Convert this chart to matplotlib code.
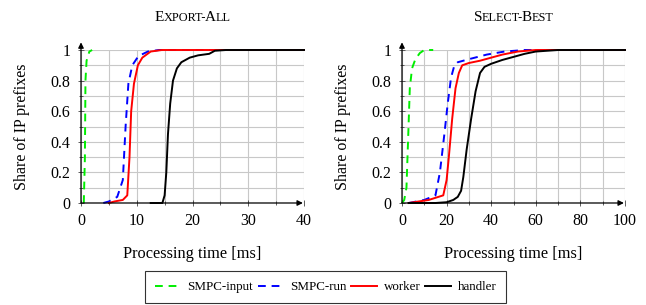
import numpy as np
import matplotlib.pyplot as plt
from matplotlib.offsetbox import TextArea, HPacker, AnchoredOffsetbox
from matplotlib.lines import Line2D

plt.rcParams['font.family'] = ['Liberation Serif', 'DejaVu Serif']

# Export-All (x in ms, y = share)
ea_input_x = [0.5, 0.7, 0.8, 1.0, 1.5, 2.0]
ea_input_y = [0.0, 0.3, 0.8, 0.93, 0.99, 1.0]
ea_run_x = [4.0, 5.0, 6.5, 7.5, 8.0, 8.5, 9.2, 10.3, 12.0, 14.0, 40.0]
ea_run_y = [0.0, 0.01, 0.04, 0.15, 0.5, 0.78, 0.9, 0.96, 0.99, 1.0, 1.0]
ea_worker_x = [5.0, 6.0, 7.5, 8.3, 8.7, 9.0, 9.5, 10.2, 11.0, 12.5, 14.5, 40.0]
ea_worker_y = [0.0, 0.01, 0.02, 0.05, 0.3, 0.6, 0.78, 0.9, 0.95, 0.99, 1.0, 1.0]
ea_handler_x = [12.5, 14.6, 15.0, 15.3, 15.6, 16.0, 16.5, 17.2, 18.0, 19.5, 21.0, 23.0, 24.0, 26.0, 40.0]
ea_handler_y = [0.0, 0.0, 0.05, 0.2, 0.45, 0.65, 0.8, 0.88, 0.92, 0.95, 0.965, 0.975, 0.995, 1.0, 1.0]

# Select-Best
sb_input_x = [0, 1, 2, 2.7, 3.5, 4.5, 6, 8, 10, 14]
sb_input_y = [0.0, 0.02, 0.1, 0.4, 0.75, 0.88, 0.94, 0.98, 1.0, 1.0]
sb_run_x = [3, 10, 15, 17, 19, 20.5, 22, 23.5, 25, 30, 38, 46, 55, 100]
sb_run_y = [0.0, 0.02, 0.05, 0.2, 0.45, 0.65, 0.82, 0.9, 0.92, 0.94, 0.97, 0.99, 1.0, 1.0]
sb_worker_x = [3, 12, 18.5, 20, 21, 22.5, 24, 25.5, 27, 30, 35, 40, 45, 52, 60, 100]
sb_worker_y = [0.0, 0.02, 0.05, 0.15, 0.3, 0.55, 0.75, 0.85, 0.9, 0.915, 0.93, 0.95, 0.97, 0.99, 1.0, 1.0]
sb_handler_x = [3, 15, 20, 23, 25, 26.5, 27.5, 29, 31, 33, 35, 37, 40, 45, 50, 55, 60, 70, 100]
sb_handler_y = [0.0, 0.0, 0.005, 0.02, 0.04, 0.08, 0.17, 0.35, 0.55, 0.73, 0.85, 0.89, 0.91, 0.935, 0.955, 0.975, 0.99, 1.0, 1.0]

names = ['SMPC-input', 'SMPC-run', 'worker', 'handler']
colors = ['#00ee00', '#0000ff', '#ff0000', '#000000']
styles = [(0, (4, 3)), (0, (4, 3)), '-', '-']

fig = plt.figure(figsize=(6.46, 3.05), dpi=100)
ax1 = fig.add_axes([81 / 646, 102 / 305, 223 / 646, 153 / 305])
ax2 = fig.add_axes([402 / 646, 102 / 305, 223 / 646, 153 / 305])


def small_caps(ax, parts):
    boxes = []
    for txt, big in parts:
        boxes.append(TextArea(txt, textprops=dict(fontsize=11 if big else 8.8)))
    pk = HPacker(children=boxes, align='baseline', pad=0, sep=-0.5)
    ab = AnchoredOffsetbox(loc='lower center', child=pk, frameon=False,
                           bbox_to_anchor=(0.5, 1.17), bbox_transform=ax.transAxes,
                           borderpad=0, pad=0)
    ax.add_artist(ab)


def setup(ax, xmax, xmajor, xminor, series, title):
    for (x, y), c, ls in zip(series, colors, styles):
        ax.plot(x, y, color=c, ls=ls, lw=1.4, clip_on=False, zorder=3)
    ax.set_xlim(0, xmax)
    ax.set_ylim(0, 1)
    ax.set_xticks(np.arange(0, xmax + 1, xmajor))
    ax.set_xticks(np.arange(0, xmax + 1, xminor), minor=True)
    ax.set_yticks([0, 0.2, 0.4, 0.6, 0.8, 1])
    ax.set_yticklabels(['0', '0.2', '0.4', '0.6', '0.8', '1'])
    ax.set_yticks(np.arange(0, 1.01, 0.1), minor=True)
    ax.grid(True, which='both', color='#c8c8c8', lw=0.8, zorder=0)
    ax.set_axisbelow(True)
    for s in ax.spines.values():
        s.set_visible(False)
    ax.tick_params(which='both', direction='inout', length=5, width=0.6,
                   color='#444444', labelsize=11.5, pad=5)
    ax.tick_params(which='minor', length=3)
    ax.annotate('', xy=(0, 1.05), xytext=(0, 0), xycoords='data',
                arrowprops=dict(arrowstyle='-|>', color='black', lw=0.9,
                                mutation_scale=8, shrinkA=0, shrinkB=0),
                annotation_clip=False)
    ax.annotate('', xy=(xmax * 0.995, 0), xytext=(0, 0), xycoords='data',
                arrowprops=dict(arrowstyle='-|>', color='black', lw=0.9,
                                mutation_scale=8, shrinkA=0, shrinkB=0),
                annotation_clip=False)
    ax.set_xlabel('Processing time [ms]', fontsize=11.8, labelpad=12)
    ax.set_ylabel('Share of IP prefixes', fontsize=11.5, labelpad=15)
    small_caps(ax, title)


setup(ax1, 40, 10, 5,
      [(ea_input_x, ea_input_y), (ea_run_x, ea_run_y),
       (ea_worker_x, ea_worker_y), (ea_handler_x, ea_handler_y)],
      [('E', True), ('XPORT-', False), ('A', True), ('LL', False)])
setup(ax2, 100, 20, 10,
      [(sb_input_x, sb_input_y), (sb_run_x, sb_run_y),
       (sb_worker_x, sb_worker_y), (sb_handler_x, sb_handler_y)],
      [('S', True), ('ELECT-', False), ('B', True), ('EST', False)])

handles = [Line2D([], [], color=c, ls=ls, lw=1.4) for c, ls in zip(colors, styles)]
leg = fig.legend(handles, names, loc='center', bbox_to_anchor=(0.504, 0.059),
                 ncol=4, fontsize=9.4, frameon=True, fancybox=False,
                 edgecolor='black', handlelength=2.0, handletextpad=0.5,
                 columnspacing=0.35, borderpad=0.75)
leg.get_frame().set_linewidth(0.8)

fig.savefig('out.png', dpi=100)
